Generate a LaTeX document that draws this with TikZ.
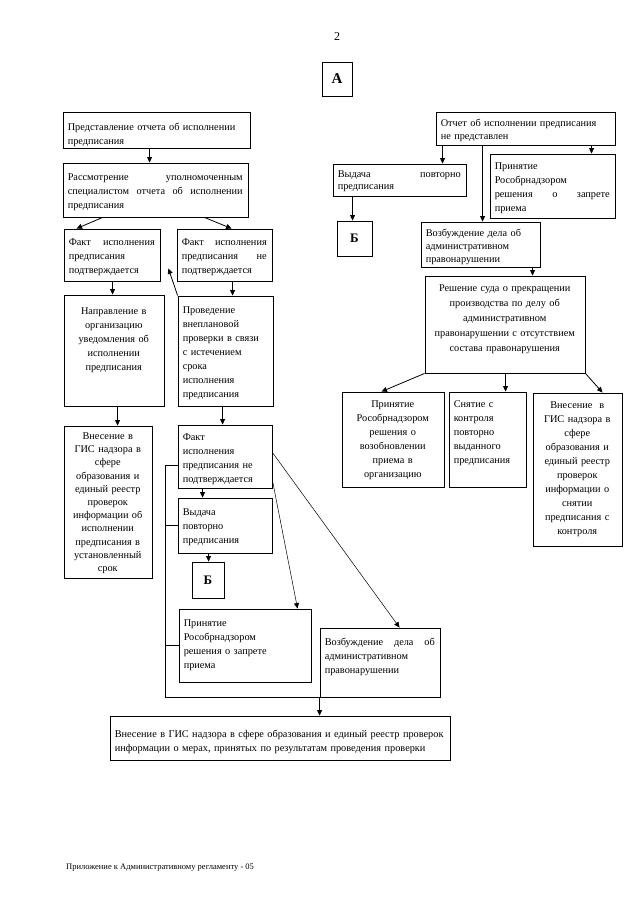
\documentclass[tikz,border=0pt]{standalone}
\usepackage{fontspec}
\setmainfont{Liberation Serif}
\usetikzlibrary{arrows.meta,fit,calc}
\tikzset{
  boxst/.style={draw, line width=0.9pt, inner sep=0pt},
  txt/.style={inner sep=0pt, align=left, font=\fontsize{10.3}{14}\selectfont},
  arr/.style={line width=0.8pt, -{Triangle[length=5.5pt,width=5pt]}},
  thinarr/.style={line width=0.5pt, -{Triangle[length=5.5pt,width=5pt]}},
  lnk/.style={line width=0.8pt},
  letterbox/.style={draw, line width=0.9pt, inner sep=0pt, font=\fontsize{13}{14}\selectfont\bfseries}
}
\newcommand\bx[7][]{%
  \node[boxst, fit={(#3,#4)(#5,#6)}] (#2) {};
  \pgfmathsetmacro\bxw{#5-#3-10}%
  \node[txt, text width=\bxw pt, anchor=north west, #1] (#2t) at ([shift={(5,11)}]#2.north west) {#7};
}
\begin{document}
\begin{tikzpicture}[x=1pt,y=-1pt]
\useasboundingbox[fill=white] (0,0) rectangle (640,905);

% header
\node[font=\fontsize{12}{14}\selectfont] (pg) at (337,37) {2};
\node[letterbox, minimum width=30pt, minimum height=34pt, font=\fontsize{15}{16}\selectfont\bfseries] (A) at (337,79) {А};

% left column
\bx{b1}{63}{112}{250}{148}{Представление отчета об исполнении\\предписания}
\bx{b2}{63}{163}{248}{217}{Рассмотрение\hfill уполномоченным\\специалистом\hfill отчета\hfill об\hfill исполнении\\предписания}
\bx[shift={(0,-1)}]{b3}{64}{229}{160}{281}{Факт\hfill исполнения\\предписания\\подтверждается}
\bx[shift={(0,-1)}]{b4}{177}{229}{272}{281}{Факт\hfill исполнения\\предписания\hfill не\\подтверждается}
\bx[align=center, shift={(0,2)}]{b5}{64}{295}{164}{406}{Направление в\\организацию\\уведомления об\\исполнении\\предписания}
\bx{b6}{178}{296}{273}{406}{Проведение\\внеплановой\\проверки в связи\\с истечением\\срока\\исполнения\\предписания}
\bx[align=center, font=\fontsize{10.3}{13.2}\selectfont, shift={(0,-4)}]{b7}{64}{426}{152}{578}{Внесение в\\ГИС надзора в\\сфере\\образования и\\единый реестр\\проверок\\информации об\\исполнении\\предписания в\\установленный\\срок}
\bx[shift={(0,-2)}]{b8}{178}{425}{272}{488}{Факт\\исполнения\\предписания не\\подтверждается}
\bx{b9}{178}{498}{272}{553}{Выдача\\повторно\\предписания}
\node[letterbox, fit={(192,562)(224,598)}] (B1) {};
\node[font=\fontsize{13}{14}\selectfont\bfseries] (B1t) at (B1.center) {Б};
\bx{b11}{179}{609}{311}{682}{Принятие\\Рособрнадзором\\решения о запрете\\приема}
\bx[shift={(0,-1)}]{b12}{320}{628}{440}{697}{Возбуждение\hfill дела\hfill об\\административном\\правонарушении}
\bx[shift={(0,3)}]{fin}{110}{716}{450}{760}{Внесение в ГИС надзора в сфере образования и единый реестр проверок\\информации о мерах, принятых по результатам проведения проверки}

% right column
\bx[shift={(0,-4)}, font=\fontsize{10.3}{13}\selectfont]{b14}{436}{112}{615}{145}{Отчет об исполнении предписания\\не представлен}
\bx[shift={(0,-4)}, font=\fontsize{10.3}{12.5}\selectfont]{b15}{333}{164}{466}{196}{Выдача\hfill повторно\\предписания}
\node[letterbox, fit={(337,221)(372,256)}] (B2) {};
\node[font=\fontsize{13}{14}\selectfont\bfseries] (B2t) at (B2.center) {Б};
\bx[shift={(0,-2)}]{b17}{490}{154}{615}{218}{Принятие\\Рособрнадзором\\решения\hfill о\hfill запрете\\приема}
\bx[shift={(0,-4)}, font=\fontsize{10.3}{13}\selectfont]{b18}{421}{222}{540}{267}{Возбуждение дела об\\административном\\правонарушении}
\bx[align=center, font=\fontsize{10.3}{15}\selectfont, shift={(0,-2)}]{b19}{425}{276}{585}{373}{Решение суда о прекращении\\производства по делу об\\административном\\правонарушении с отсутствием\\состава правонарушения}
\bx[align=center, shift={(0,-2)}]{b20}{342}{392}{444}{487}{Принятие\\Рособрнадзором\\решения о\\возобновлении\\приема в\\организацию}
\bx[shift={(0,-2)}]{b21}{449}{392}{526}{487}{Снятие с\\контроля\\повторно\\выданного\\предписания}
\bx[align=center, shift={(0,-2)}]{b22}{533}{393}{622}{546}{Внесение\ \ в\\ГИС надзора в\\сфере\\образования и\\единый реестр\\проверок\\информации о\\снятии\\предписания с\\контроля}

% footer
\node[anchor=west, inner sep=0pt, font=\fontsize{8.5}{10}\selectfont] (foot) at (66,868) {Приложение к Административному регламенту - 05};

% connectors left
\draw[arr] (b1.south west) ++(87,0) coordinate (c1) -- (c1 |- b2.north);
\draw[arr] ([xshift=40pt]b2.south west) -- ([xshift=13pt]b3.north west);
\draw[arr] ([xshift=142pt]b2.south west) -- ([xshift=55pt]b4.north west);
\draw[arr] (b3.south west) ++(49,0) coordinate (c2) -- (c2 |- b5.north);
\draw[arr] (b4.south west) ++(56,0) coordinate (c3) -- (c3 |- b6.north);
\draw[arr] (b6.north west) -- ([shift={(8,-13)}]b3.south east);
\draw[arr] (b5.south west) ++(54,0) coordinate (c4) -- (c4 |- b7.north);
\draw[arr] (b6.south west) ++(45,0) coordinate (c5) -- (c5 |- b8.north);
\draw[arr] (b8.south west) ++(25,0) coordinate (c6) -- (c6 |- b9.north);
\draw[arr] (b9.south west) ++(31,0) coordinate (c7) -- (c7 |- B1.north);
\draw[thinarr] ([yshift=8pt]b8.south east) -- ([xshift=119pt]b11.north west);
\draw[thinarr] ([yshift=-28pt]b8.north east) -- ([xshift=80pt]b12.north west);
\draw[lnk] ([yshift=-41pt]b8.north west) -- ++(-12,0) coordinate (k) -- (k |- b12.south west) -- (b12.south west);
\draw[lnk] (b9.west) -- (b9.west -| k);
\draw[lnk] (b11.west) -- (b11.west -| k);
\draw[arr] (b12.south west) -- (b12.south west |- fin.north);

% connectors right
\draw[arr] (b14.south west) ++(7,0) coordinate (d1) -- (d1 |- b15.north);
\draw[arr] (b14.south west) ++(47,0) coordinate (d2) -- (d2 |- b18.north);
\draw[arr] (b14.south west) ++(156,0) coordinate (d3) -- (d3 |- b17.north);
\draw[arr] (b15.south west) ++(20,0) coordinate (d4) -- (d4 |- B2.north);
\draw[arr] (b18.south west) ++(112,0) coordinate (d5) -- (d5 |- b19.north);
\draw[arr] (b19.south west) -- ([xshift=40pt]b20.north west);
\draw[arr] (b19.south west) ++(81,0) coordinate (d6) -- (d6 |- b21.north);
\draw[arr] (b19.south east) -- ([xshift=70pt]b22.north west);
\end{tikzpicture}
\end{document}
